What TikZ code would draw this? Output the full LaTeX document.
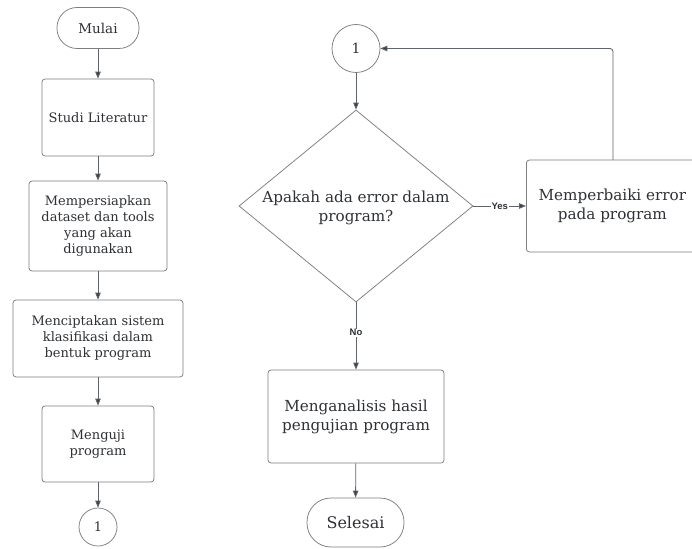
\documentclass[tikz,border=0pt]{standalone}
\usepackage{fontspec}
\setmainfont{DejaVu Serif}
\newfontfamily\lblfont{Liberation Sans}
\usetikzlibrary{arrows.meta,shapes.geometric}
\definecolor{linegray}{HTML}{5F636A}
\definecolor{boxgray}{HTML}{7E7E7E}
\definecolor{txtgray}{HTML}{2E3136}
\definecolor{arrowdark}{HTML}{3A414C}
\tikzset{
  procbox/.style={draw=boxgray, line width=0.75pt, rounded corners=3pt, align=center, text=txtgray, inner sep=0pt},
  termbox/.style={draw=boxgray, line width=0.75pt, rounded corners=20pt, align=center, text=txtgray, inner sep=0pt},
  connbox/.style={draw=boxgray, line width=0.75pt, circle, text=txtgray, inner sep=0pt},
  decbox/.style={draw=boxgray, line width=0.75pt, diamond, text=txtgray, align=center, inner sep=0pt},
  flow/.style={draw=linegray, line width=0.85pt, -{Triangle[length=7pt,width=5.5pt,fill=arrowdark]}},
  lbl/.style={font=\lblfont\bfseries\fontsize{9.5}{10}\selectfont, text=txtgray, fill=white, inner sep=0.8pt},
  lefttxt/.style={font=\fontsize{13}{16}\selectfont},
  righttxt/.style={font=\fontsize{15.2}{19}\selectfont}
}
\begin{document}
\begin{tikzpicture}[x=1pt,y=-1pt]
\useasboundingbox (0,0) rectangle (692,548);
\clip (0,0) rectangle (692,548);
\fill[white] (0,0) rectangle (692,548);
% left column
\node[termbox, minimum width=82pt, minimum height=41pt, font=\fontsize{13.5}{16}\selectfont] (mulai) at (98,28) {Mulai};
\node[procbox, minimum width=112pt, minimum height=77pt, lefttxt] (studi) at (98,117.5) {Studi Literatur};
\node[procbox, minimum width=138pt, minimum height=90pt, lefttxt] (siap) at (98,226) {Mempersiapkan\\dataset dan tools\\yang akan\\digunakan};
\node[procbox, minimum width=170pt, minimum height=77pt, lefttxt] (cipta) at (98,338.5) {Menciptakan sistem\\klasifikasi dalam\\bentuk program};
\node[procbox, minimum width=112pt, minimum height=76pt, lefttxt] (uji) at (98,444) {Menguji\\program};
\node[connbox, minimum size=38pt, font=\fontsize{13}{15}\selectfont] (c1a) at (98,527) {1};
\draw[flow] (mulai) -- (studi);
\draw[flow] (studi) -- (siap);
\draw[flow] (siap) -- (cipta);
\draw[flow] (cipta) -- (uji);
\draw[flow] (uji) -- (c1a);
% right column
\node[connbox, minimum size=48pt, font=\fontsize{14}{16}\selectfont] (c1b) at (356,48.5) {1};
\node[decbox, minimum width=234pt, minimum height=192pt, aspect=1.22] (dec) at (356,206) {\phantom{X}};
\node[text=txtgray, align=center, righttxt] (dectxt) at (356,208) {Apakah ada error dalam\\program?};
\node[procbox, minimum width=180pt, minimum height=92pt, anchor=west, righttxt] (fix) at (526,206) {\hspace*{-8pt}Memperbaiki error\\\hspace*{-8pt}pada program};
\node[procbox, minimum width=176pt, minimum height=93pt, righttxt] (anal) at (356,416.5) {Menganalisis hasil\\pengujian program};
\node[termbox, minimum width=97pt, minimum height=49pt, rounded corners=24pt, font=\fontsize{16}{18}\selectfont] (selesai) at (355.5,522.5) {Selesai};
\coordinate (fixtop) at (613,160);
\draw[flow] (c1b) -- (dec.north);
\draw[flow] (dec.east) -- node[lbl] {Yes} (fix.west);
\draw[flow] (dec.south) -- node[lbl, pos=0.45] {No} (anal);
\draw[flow] (anal) -- (selesai);
\draw[flow, rounded corners=3pt] (fixtop) |- (c1b.east);
\end{tikzpicture}
\end{document}
